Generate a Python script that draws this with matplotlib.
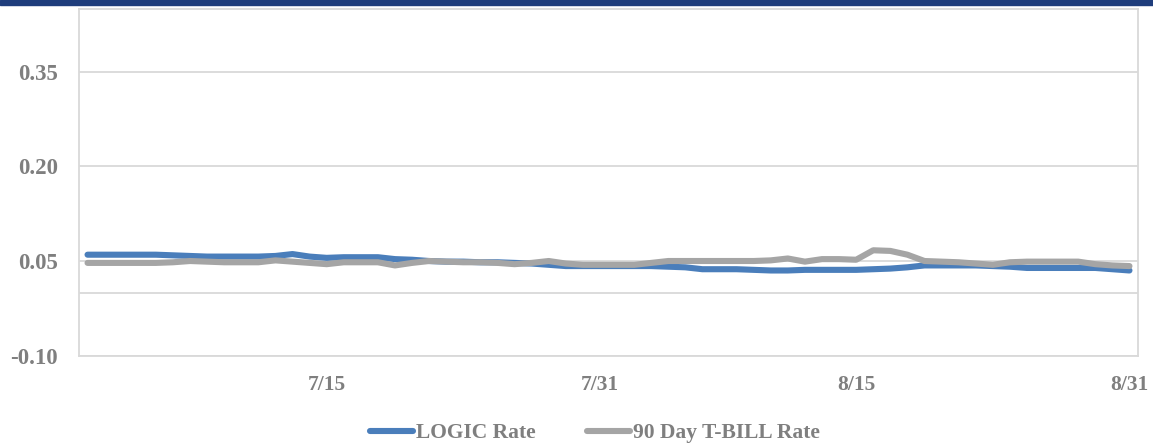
import numpy as np
import matplotlib
matplotlib.use('Agg')
import matplotlib.pyplot as plt
from matplotlib.patches import Rectangle

# one point per calendar day, 7/1 .. 8/31
days = [f'7/{d}' for d in range(1, 32)] + [f'8/{d}' for d in range(1, 32)]

logic_rate = [0.060, 0.060, 0.060, 0.060, 0.060, 0.059, 0.058, 0.057, 0.057, 0.057,
              0.057, 0.058, 0.061, 0.057, 0.055, 0.056, 0.056, 0.056, 0.053, 0.052,
              0.050, 0.049, 0.049, 0.048, 0.048, 0.047, 0.046, 0.044, 0.042, 0.042,
              0.042, 0.042, 0.042, 0.042, 0.041, 0.040, 0.037, 0.037, 0.037, 0.036,
              0.035, 0.035, 0.036, 0.036, 0.036, 0.036, 0.037, 0.038, 0.040, 0.043,
              0.043, 0.043, 0.043, 0.042, 0.041, 0.039, 0.039, 0.039, 0.039, 0.039,
              0.037, 0.035]

tbill_rate = [0.047, 0.047, 0.047, 0.047, 0.047, 0.048, 0.050, 0.049, 0.048, 0.048,
              0.048, 0.051, 0.049, 0.047, 0.045, 0.048, 0.048, 0.048, 0.043, 0.047,
              0.050, 0.049, 0.048, 0.048, 0.047, 0.045, 0.047, 0.050, 0.046, 0.044,
              0.044, 0.044, 0.044, 0.047, 0.050, 0.050, 0.050, 0.050, 0.050, 0.050,
              0.051, 0.054, 0.049, 0.053, 0.053, 0.052, 0.067, 0.066, 0.060, 0.050,
              0.049, 0.048, 0.046, 0.044, 0.048, 0.049, 0.049, 0.049, 0.049, 0.045,
              0.043, 0.042]

x_labels = ['7/15', '7/31', '8/15', '8/31']
y_ticks = [-0.10, 0.05, 0.20, 0.35]

plt.rcParams['font.family'] = ['Liberation Serif', 'DejaVu Serif']
plt.rcParams['font.weight'] = 'bold'

text_gray = '#7f7f7f'
grid_gray = '#d9d9d9'

fig = plt.figure(figsize=(11.53, 4.45), dpi=100)
ax = fig.add_axes([79 / 1153, 1 - 355.7 / 445, (1138 - 79) / 1153, (355.7 - 8.5) / 445])

# dark band along the top edge
fig.patches.append(Rectangle((0, 1 - 5 / 445), 1, 5 / 445, transform=fig.transFigure,
                             color='#1f3d7c', zorder=10))

x = np.arange(len(days))
ax.plot(x, logic_rate, color='#4a7ebb', lw=4.4, solid_capstyle='round',
        solid_joinstyle='round', label='LOGIC Rate', zorder=3)
ax.plot(x, tbill_rate, color='#a5a5a5', lw=4.4, solid_capstyle='round',
        solid_joinstyle='round', label='90 Day T-BILL Rate', zorder=4)

ax.set_xlim(-0.5, len(days) - 0.5)
ax.set_ylim(-0.10, 0.45)
ax.set_yticks(y_ticks)
ax.set_yticklabels([f'{v:.2f}' for v in y_ticks])
ax.set_xticks([days.index(d) for d in x_labels])
ax.set_xticklabels(x_labels)

ax.yaxis.grid(True, color=grid_gray, lw=1.3)
ax.set_axisbelow(True)
ax.axhline(0, color=grid_gray, lw=1.3, zorder=1)
for s in ax.spines.values():
    s.set_color(grid_gray)
    s.set_linewidth(1.3)

ax.tick_params(axis='both', length=0, labelcolor=text_gray)
ax.tick_params(axis='y', pad=15, labelsize=16.5)
ax.tick_params(axis='x', pad=14, labelsize=15.5)

fig.legend(loc='center', bbox_to_anchor=(595 / 1153, 1 - 433 / 445), ncol=2,
           frameon=False, fontsize=15.5, labelcolor=text_gray, handlelength=2.0,
           handletextpad=0.15, columnspacing=2.4)

fig.savefig('out.png', dpi=100)
